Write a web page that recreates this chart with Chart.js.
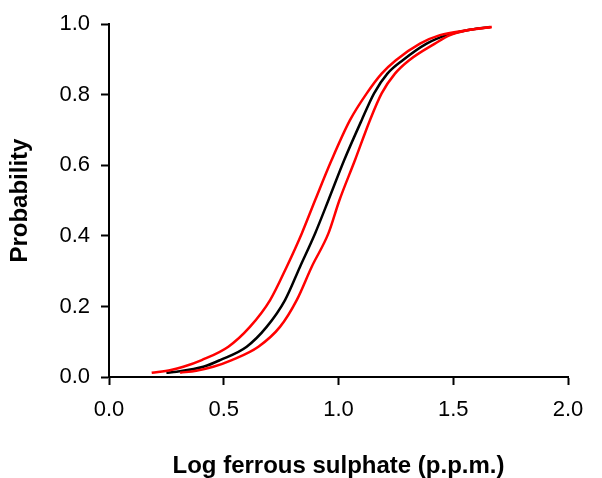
<!DOCTYPE html>
<html>
<head>
<meta charset="utf-8">
<script src="https://cdn.jsdelivr.net/npm/chart.js@4/dist/chart.umd.min.js"></script>
<style>
  html, body { margin: 0; padding: 0; background: #fff; }
  #wrap { width: 602px; height: 478px; }
</style>
</head>
<body>
<div id="wrap"><canvas id="probChart" width="602" height="478"></canvas></div>
<script>
// fitted curve (black)
const fitX = [0.25, 0.295, 0.411, 0.484, 0.600, 0.687, 0.767, 0.832, 0.898, 0.956, 1.025, 1.101, 1.155, 1.213, 1.28, 1.384, 1.471, 1.56, 1.66];
const fitY = [0.012, 0.015, 0.029, 0.048, 0.086, 0.142, 0.218, 0.312, 0.407, 0.501, 0.615, 0.728, 0.804, 0.860, 0.898, 0.945, 0.969, 0.983, 0.992];

// upper confidence limit (red, left)
const upperX = [0.186, 0.27, 0.324, 0.404, 0.520, 0.614, 0.702, 0.774, 0.840, 0.898, 0.970, 1.050, 1.123, 1.188, 1.25, 1.355, 1.442, 1.56, 1.667];
const upperY = [0.012, 0.02, 0.029, 0.048, 0.086, 0.142, 0.218, 0.312, 0.407, 0.501, 0.615, 0.728, 0.804, 0.860, 0.898, 0.945, 0.969, 0.983, 0.992];

// lower confidence limit (red, right)
const lowerX = [0.31, 0.38, 0.454, 0.535, 0.651, 0.745, 0.818, 0.883, 0.956, 1.004, 1.072, 1.137, 1.188, 1.246, 1.308, 1.420, 1.486, 1.56, 1.667];
const lowerY = [0.012, 0.018, 0.029, 0.048, 0.086, 0.142, 0.218, 0.312, 0.407, 0.501, 0.615, 0.728, 0.804, 0.860, 0.898, 0.945, 0.969, 0.983, 0.992];

const toPoints = (xs, ys) => xs.map((x, i) => ({ x: x, y: ys[i] }));

const lineSet = (label, xs, ys, color) => ({
    label: label,
    data: toPoints(xs, ys),
    borderColor: color,
    borderWidth: 2.5,
    pointRadius: 0,
    showLine: true,
    fill: false,
    cubicInterpolationMode: 'monotone'
});

const font = { family: 'Liberation Sans, Arial, sans-serif', size: 22 };
const titleFont = { family: 'Liberation Sans, Arial, sans-serif', size: 24, weight: 'bold', lineHeight: 1 };

new Chart(document.getElementById('probChart').getContext('2d'), {
    type: 'scatter',
    data: {
        datasets: [
            lineSet('Upper', upperX, upperY, '#ff0000'),
            lineSet('Lower', lowerX, lowerY, '#ff0000'),
            lineSet('Fitted', fitX, fitY, '#000000')
        ]
    },
    options: {
        responsive: false,
        animation: false,
        layout: { padding: { left: 0, right: 34, top: 24, bottom: 0 } },
        plugins: {
            legend: { display: false },
            tooltip: { enabled: false }
        },
        scales: {
            x: {
                type: 'linear',
                min: 0,
                max: 2,
                afterFit: (axis) => { axis.height = 101; },
                ticks: {
                    stepSize: 0.5,
                    color: '#000',
                    font: font,
                    padding: 12,
                    maxRotation: 0,
                    callback: (v) => v.toFixed(1)
                },
                grid: {
                    drawOnChartArea: false,
                    tickLength: 8,
                    tickColor: '#000',
                    tickWidth: 2
                },
                border: { color: '#000', width: 2 },
                title: {
                    display: true,
                    text: 'Log ferrous sulphate (p.p.m.)',
                    color: '#000',
                    font: titleFont,
                    padding: { top: 0, bottom: 0 }
                }
            },
            y: {
                type: 'linear',
                min: 0,
                max: 1,
                afterFit: (axis) => { axis.width = 109; },
                ticks: {
                    stepSize: 0.2,
                    color: '#000',
                    font: font,
                    padding: 11,
                    callback: (v) => v.toFixed(1)
                },
                grid: {
                    drawOnChartArea: false,
                    tickLength: 8,
                    tickColor: '#000',
                    tickWidth: 2
                },
                border: { color: '#000', width: 2 },
                title: {
                    display: true,
                    text: 'Probability',
                    color: '#000',
                    font: titleFont,
                    padding: { top: 8, bottom: 0 }
                }
            }
        }
    }
});
</script>
</body>
</html>
